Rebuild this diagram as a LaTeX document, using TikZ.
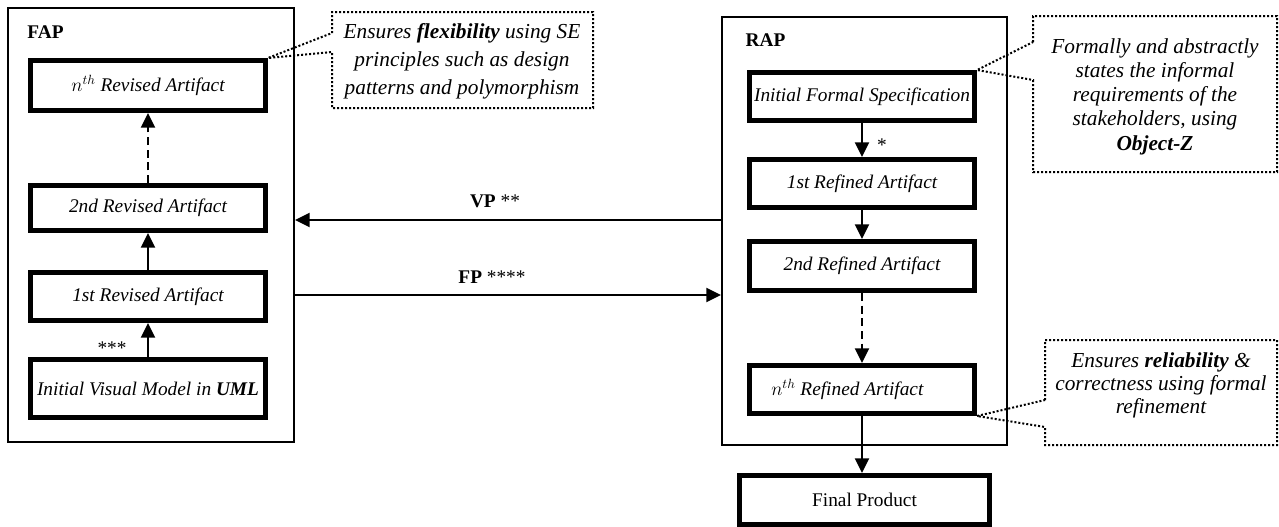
\documentclass[tikz,border=0pt]{standalone}
\usepackage{fontspec}
\setmainfont{Liberation Serif}
\usetikzlibrary{arrows.meta,calc}
\begin{document}
\begin{tikzpicture}[x=0.75pt,y=-0.75pt,
  panel/.style={draw,line width=1.8pt,inner sep=0pt},
  artbox/.style={draw,line width=3.75pt,inner sep=0pt,font=\fontsize{14.5}{17}\selectfont\itshape},
  arr/.style={line width=1.5pt,-{Triangle[length=11pt,width=10.5pt]}},
  dasharr/.style={arr,dash pattern=on 6pt off 3.5pt},
  note/.style={align=center,inner sep=0pt,font=\fontsize{16}{21}\selectfont\itshape},
  callout/.style={line width=1.5pt,dash pattern=on 1.5pt off 1.5pt},
  lbl/.style={inner sep=0pt,font=\fontsize{14.5}{17}\selectfont\bfseries},
  star/.style={inner sep=0pt,font=\fontsize{14.5}{17}\selectfont}
]
\useasboundingbox (0,0) rectangle (1279,526);

% panels
\node[panel,minimum width=214.1pt,minimum height=325.1pt] (FAP) at (151,225) {};
\node[panel,minimum width=213.4pt,minimum height=320.6pt] (RAP) at (864.5,231) {};
\node[lbl] (FAPlbl) at (45.5,32) {FAP};
\node[lbl] (RAPlbl) at (765.5,40) {RAP};

% forward path (left column)
\node[artbox,minimum width=176.25pt,minimum height=37.5pt] (nthR) at (148,85.5) {$n^{th}$ Revised Artifact};
\node[artbox,minimum width=176.25pt,minimum height=33.75pt] (sndR) at (148,208) {2nd Revised Artifact};
\node[artbox,minimum width=176.25pt,minimum height=36pt] (fstR) at (148,296.5) {1st Revised Artifact};
\node[artbox,minimum width=176.25pt,minimum height=43.5pt] (IVM) at (148,388.5) {Initial Visual Model in \textbf{UML}};

\draw[arr] (IVM.north) -- (fstR.south);
\draw[arr] (fstR.north) -- (sndR.south);
\draw[dasharr] (sndR.north) -- (nthR.south);
\node[star] (s3) at (112,348) {***};

% refinement path (right column)
\node[artbox,minimum width=168.75pt,minimum height=36pt] (IFS) at (862,96.5) {Initial Formal Specification};
\node[artbox,minimum width=168.75pt,minimum height=36pt] (fstRef) at (862,183.5) {1st Refined Artifact};
\node[artbox,minimum width=168.75pt,minimum height=36.75pt] (sndRef) at (862,266) {2nd Refined Artifact};
\node[artbox,minimum width=168.75pt,minimum height=36pt] (nthRef) at (862,389.5) {$n^{th}$ Refined Artifact\kern22pt};
\node[artbox,font=\fontsize{14.5}{17}\selectfont,minimum width=187.5pt,minimum height=36.4pt] (Final) at (864.5,499.75) {Final Product};

\draw[arr] (IFS.south) -- (fstRef.north);
\draw[arr] (fstRef.south) -- (sndRef.north);
\draw[dasharr] (sndRef.south) -- (nthRef.north);
\draw[arr] (nthRef.south) -- (nthRef.south |- Final.north);
\node[star] (s1) at (882,145) {*};

% exchanges between the panels
\coordinate (vp) at (0,220);
\coordinate (fp) at (0,295);
\draw[arr] (RAP.west |- vp) -- (FAP.east |- vp);
\draw[arr] (FAP.east |- fp) -- (RAP.west |- fp);
\node[lbl] (VPlbl) at (495,201) {VP {\mdseries **}};
\node[lbl] (FPlbl) at (492,277) {FP {\mdseries ****}};

% callout: flexibility
\node[note] (c1) at (462,61) {Ensures \textbf{flexibility} using SE\\principles such as design\\patterns and polymorphism};
\draw[callout] (332,33) -- (332,12) -- (593,12) -- (593,108) -- (332,108) -- (332,52) -- (nthR.north east) -- cycle;

% callout: Object-Z
\node[note,font=\fontsize{16}{18.2}\selectfont\itshape] (c2) at (1155,96.5) {Formally and abstractly\\states the informal\\requirements of the\\stakeholders, using\\\textbf{Object-Z}};
\draw[callout] (1033,42) -- (1033,16) -- (1277,16) -- (1277,172) -- (1033,172) -- (1033,80) -- (IFS.north east) -- cycle;

% callout: reliability
\node[note,font=\fontsize{16}{17.3}\selectfont\itshape] (c3) at (1161,385) {Ensures \textbf{reliability} \&\\correctness using formal\\refinement};
\draw[callout] (1045,400) -- (1045,340) -- (1277,340) -- (1277,445) -- (1045,445) -- (1045,427) -- (nthRef.south east) -- cycle;
\end{tikzpicture}
\end{document}
